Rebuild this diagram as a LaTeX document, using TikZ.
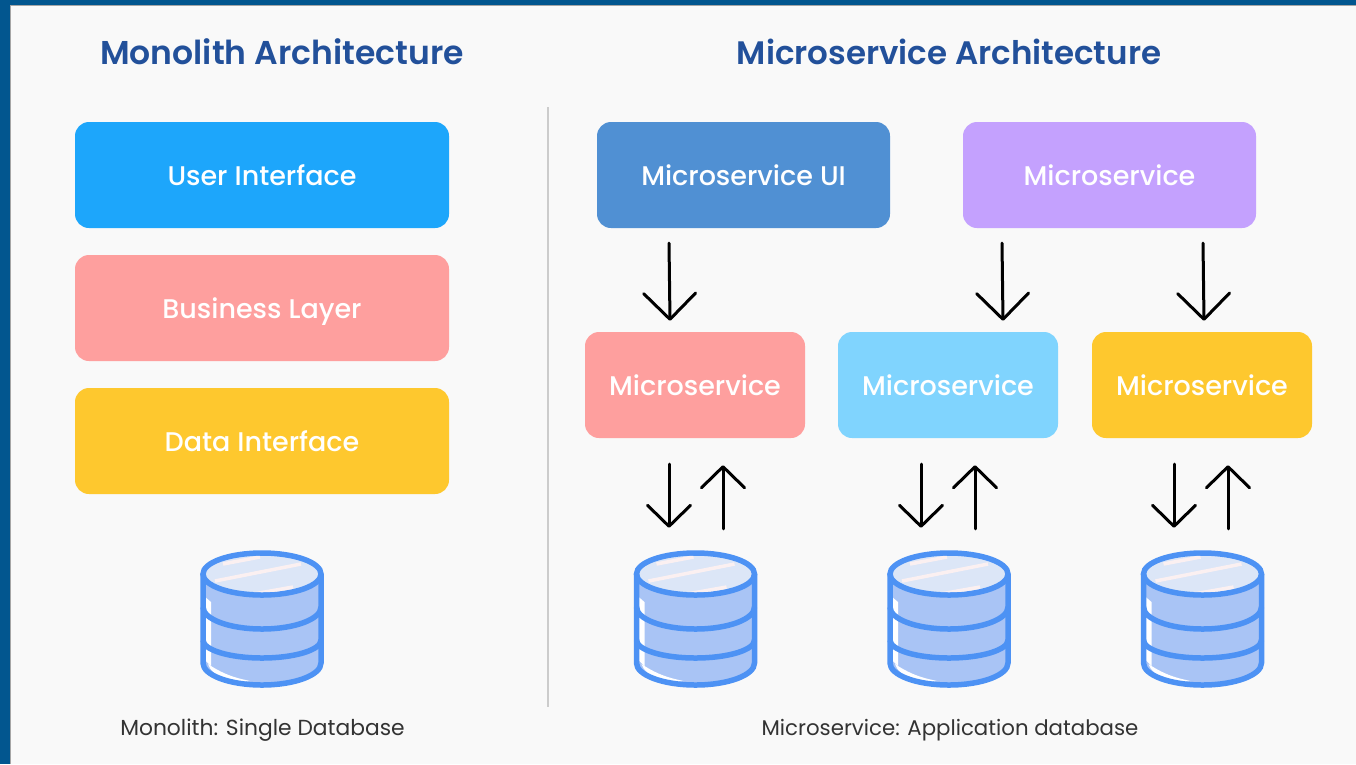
\documentclass[tikz,border=0pt]{standalone}
\usepackage{fontspec}
\setmainfont{Poppins}
\newfontfamily\medfont{Poppins Medium}
\newfontfamily\semifont{Poppins SemiBold}
\usetikzlibrary{arrows.meta}
\definecolor{bandblue}{HTML}{02568F}
\definecolor{paper}{HTML}{F9F9F9}
\definecolor{titleblue}{HTML}{22509A}
\definecolor{cuser}{HTML}{1DA6FB}
\definecolor{cpink}{HTML}{FE9F9E}
\definecolor{cyellow}{HTML}{FEC82E}
\definecolor{cui}{HTML}{5090D3}
\definecolor{cpurple}{HTML}{C4A1FE}
\definecolor{csky}{HTML}{80D4FE}
\definecolor{dbline}{HTML}{4D92F4}
\definecolor{dbfill}{HTML}{A9C4F5}
\definecolor{dbtop}{HTML}{DCE6F7}
\definecolor{dbshine}{HTML}{FBF0F1}
\tikzset{
  x=1pt,y=-1pt,
  box/.style={rounded corners=14pt,text=white,font=\medfont\fontsize{27}{30}\selectfont,inner sep=0pt,align=center,text height=26pt,text depth=6pt},
  widebox/.style={box,minimum width=374pt,minimum height=106pt},
  uibox/.style={box,minimum width=293pt,minimum height=106pt},
  msbox/.style={box,minimum width=220pt,minimum height=106pt},
  heading/.style={font=\semifont\fontsize{33}{36}\selectfont,text=titleblue,inner sep=0pt},
  caption/.style={font=\fontsize{21.8}{26}\selectfont,text=black!80,inner sep=0pt},
  bigarrow/.style={line width=3pt,line cap=round,black,-{Straight Barb[length=26pt,width=52pt,line width=3pt,round]}},
  smallarrow/.style={line width=3pt,line cap=round,black,-{Straight Barb[length=21pt,width=43pt,line width=3pt,round]}},
  dbanchor/.style={minimum width=122pt,minimum height=134pt,inner sep=0pt},
  pics/dbicon/.style={code={
    % body
    \fill[dbfill] (-59,0) -- (-59,89) arc[start angle=180,end angle=0,x radius=59,y radius=22] -- (59,0) -- cycle;
    \fill[white] (-58,22) -- (-51,28) -- (-51,92) -- (-58,85) -- cycle;
    \fill[white] (-54,90) .. controls (-35,103) and (-20,105) .. (-12,107) .. controls (-30,110) and (-50,103) .. (-54,90) -- cycle;
    % top
    \filldraw[fill=dbtop,draw=dbline,line width=5.5pt] (0,0) ellipse[x radius=59,y radius=21];
    \begin{scope}
      \clip (0,0) ellipse[x radius=56.2,y radius=18.2];
      \draw[dbshine,line width=3.5pt] (-39,-10) -- (-2,-17);
      \draw[dbshine,line width=3.5pt] (-47,7) -- (39,-10);
      \draw[dbshine,line width=3.5pt] (-14,21) -- (31,13);
    \end{scope}
    % rings and outline
    \draw[dbline,line width=5.5pt] (-59,0) -- (-59,89) arc[start angle=180,end angle=0,x radius=59,y radius=22] -- (59,0);
    \draw[dbline,line width=5.5pt] (-59,33) arc[start angle=180,end angle=0,x radius=59,y radius=22];
    \draw[dbline,line width=5.5pt] (-59,66) arc[start angle=180,end angle=0,x radius=59,y radius=18];
  }}
}
\begin{document}
\begin{tikzpicture}
\useasboundingbox (0,0) rectangle (1356,764);
\fill[bandblue] (0,0) rectangle (1356,764);
\fill[gray!70] (10,5) rectangle (1356,764);
\fill[paper] (11,6) rectangle (1356,764);

\node[heading] (t1) at (282,52) {Monolith Architecture};
\node[heading,font=\semifont\fontsize{32.5}{36}\selectfont] (t2) at (949,52) {Microservice Architecture};

\coordinate (ruletop) at (548,107);
\coordinate (rulebot) at (548,707);
\draw[black!20,line width=1.2pt] (ruletop) -- (rulebot);

\node[widebox,fill=cuser] (user) at (262,175) {User Interface};
\node[widebox,fill=cpink] (biz) at (262,308) {Business Layer};
\node[widebox,fill=cyellow] (data) at (262,441) {Data Interface};

\node[uibox,fill=cui] (ui) at (743.5,175) {Microservice UI};
\node[uibox,fill=cpurple] (pur) at (1109.5,175) {Microservice};
\node[msbox,fill=cpink] (m1) at (695,385) {Microservice};
\node[msbox,fill=csky] (m2) at (948,385) {Microservice};
\node[msbox,fill=cyellow] (m3) at (1202,385) {Microservice};

\node[dbanchor] (db0) at (262,618) {};
\node[dbanchor] (db1) at (695.5,618) {};
\node[dbanchor] (db2) at (949,618) {};
\node[dbanchor] (db3) at (1202.5,618) {};
\pic at (262,574) {dbicon};
\pic at (695.5,574) {dbicon};
\pic at (949,574) {dbicon};
\pic at (1202.5,574) {dbicon};

\draw[bigarrow] ([xshift=-74.5pt,yshift=-15pt]ui.south) -- ([xshift=-25pt,yshift=11pt]m1.north);
\draw[bigarrow] ([xshift=-107.5pt,yshift=-15pt]pur.south) -- ([xshift=55pt,yshift=11pt]m2.north);
\draw[bigarrow] ([xshift=93.5pt,yshift=-15pt]pur.south) -- ([xshift=2pt,yshift=11pt]m3.north);

\draw[smallarrow] ([xshift=-26pt,yshift=-26pt]m1.south) -- ([xshift=-26.5pt,yshift=23pt]db1.north);
\draw[smallarrow] ([xshift=27.5pt,yshift=22pt]db1.north) -- ([xshift=28pt,yshift=-27pt]m1.south);
\draw[smallarrow] ([xshift=-27pt,yshift=-26pt]m2.south) -- ([xshift=-28pt,yshift=23pt]db2.north);
\draw[smallarrow] ([xshift=26pt,yshift=22pt]db2.north) -- ([xshift=27pt,yshift=-27pt]m2.south);
\draw[smallarrow] ([xshift=-28pt,yshift=-26pt]m3.south) -- ([xshift=-28.5pt,yshift=23pt]db3.north);
\draw[smallarrow] ([xshift=25.5pt,yshift=22pt]db3.north) -- ([xshift=26pt,yshift=-27pt]m3.south);

\node[caption] (c1) at (262.5,730) {Monolith: Single Database};
\node[caption,font=\fontsize{21.3}{26}\selectfont] (c2) at (950,730) {Microservice: Application database};
\end{tikzpicture}
\end{document}
